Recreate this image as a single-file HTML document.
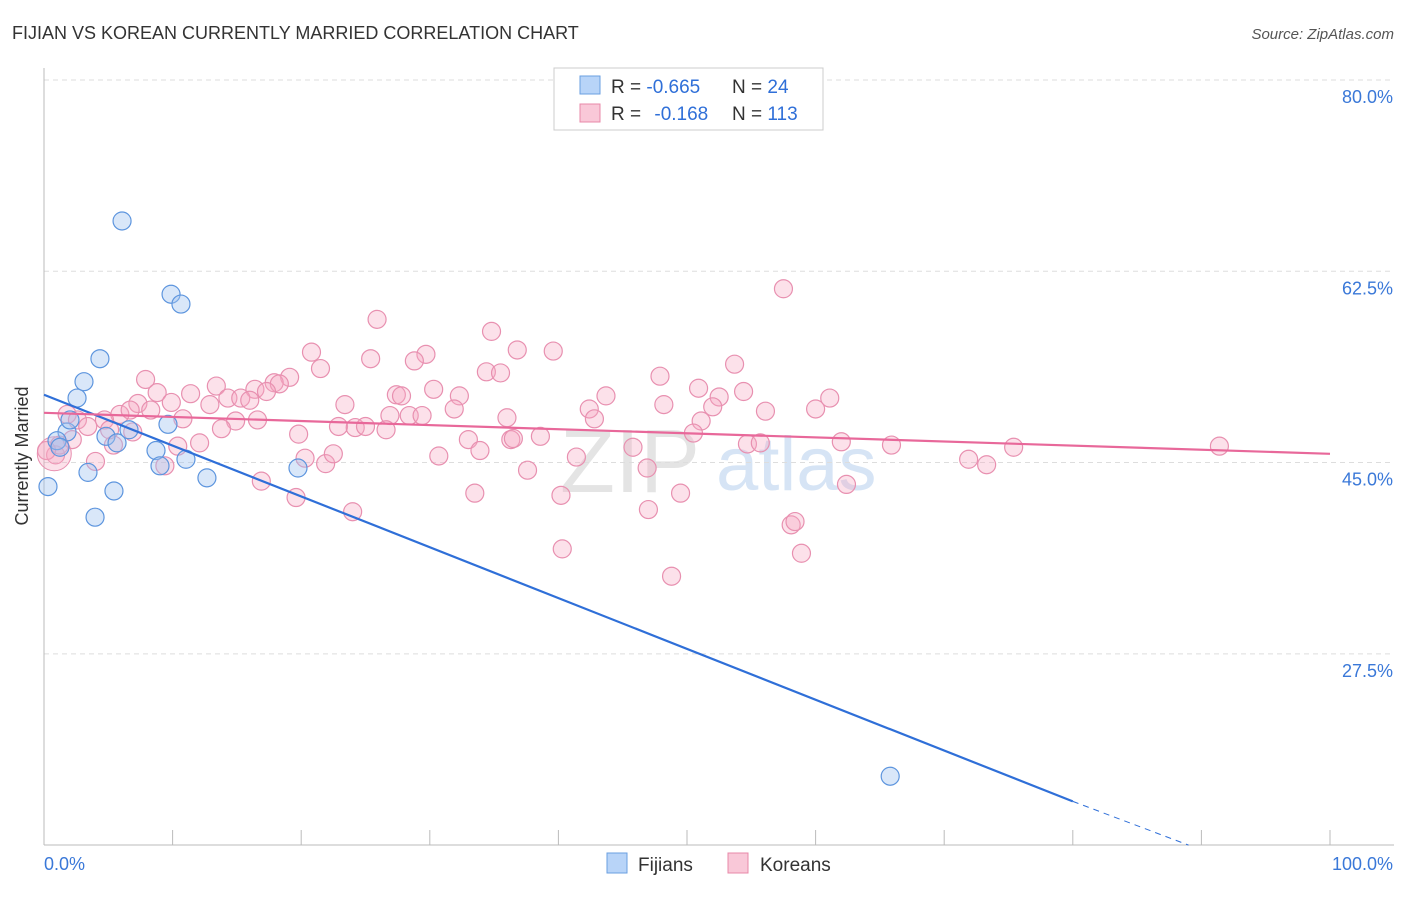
<!DOCTYPE html>
<html><head><meta charset="utf-8"><style>
body{margin:0;background:#fff;font-family:"Liberation Sans",sans-serif;}
svg text{font-family:"Liberation Sans",sans-serif;}
</style></head><body>
<svg id="chart" width="1406" height="892" xmlns="http://www.w3.org/2000/svg">
<text x="12" y="39" font-size="18" fill="#333">FIJIAN VS KOREAN CURRENTLY MARRIED CORRELATION CHART</text>
<text x="1394" y="39" font-size="15" fill="#555" text-anchor="end" font-style="italic">Source: ZipAtlas.com</text>
<text x="28" y="456" font-size="18" fill="#333" text-anchor="middle" transform="rotate(-90 28 456)">Currently Married</text>
<text x="700" y="492" font-size="90" fill="#e4e4e4" text-anchor="end" font-family="Liberation Serif">ZIP</text>
<text x="716" y="490" font-size="76" fill="#d6e4f5">atlas</text>
<g id="grid"></g><g id="axes"></g><g id="kor"></g><g id="fij"></g><g id="lines"></g>
<g>
<rect x="554" y="68" width="269" height="62" fill="#fff" stroke="#ccc"/>
<rect x="580" y="76" width="20" height="18" fill="#b8d4f8" stroke="#6a9fe0"/>
<rect x="580" y="104" width="20" height="18" fill="#f9c8d8" stroke="#e888a8"/>
<text x="611" y="93" font-size="19" fill="#333">R = <tspan fill="#2f6fd8">-0.665</tspan><tspan x="732">N = </tspan><tspan fill="#2f6fd8">24</tspan></text>
<text x="611" y="120" font-size="19" fill="#333">R = <tspan fill="#2f6fd8" dx="8">-0.168</tspan><tspan x="732">N = </tspan><tspan fill="#2f6fd8">113</tspan></text>
</g>
<g>
<rect x="607" y="853" width="20" height="20" fill="#b8d4f8" stroke="#6a9fe0"/>
<text x="638" y="871" font-size="19" fill="#333">Fijians</text>
<rect x="728" y="853" width="20" height="20" fill="#f9c8d8" stroke="#e888a8"/>
<text x="760" y="871" font-size="19" fill="#333">Koreans</text>
</g>
</svg>
<script>
const yTicks=[80,62.5,45,27.5];
const yTickLabels=["80.0%","62.5%","45.0%","27.5%"];
const fijX=[6.07,9.88,10.65,4.35,3.11,2.57,1.79,2.02,1.01,1.24,0.31,3.42,3.97,5.44,4.82,5.68,6.61,9.64,8.71,9.02,11.04,12.67,19.75,65.8];
const fijY=[67.1,60.4,59.5,54.5,52.4,50.9,47.8,48.9,47.0,46.4,42.8,44.1,40.0,42.4,47.4,46.8,48.0,48.5,46.1,44.7,45.3,43.6,44.5,16.3];
const korX=[57.5,25.9,34.8,36.8,39.6,20.8,25.4,29.7,28.8,53.7,21.5,34.4,35.5,7.9,19.1,17.9,18.3,13.4,16.4,17.3,11.4,8.8,30.3,32.3,43.7,47.9,50.9,52.5,54.4,61.1,14.3,15.3,16.0,9.9,7.3,12.9,23.4,27.4,27.8,31.9,42.4,48.2,52.0,56.1,60.0,8.3,5.9,4.7,10.8,14.9,26.9,28.4,29.4,36.0,42.8,1.8,2.6,3.4,22.9,26.6,24.2,25.0,51.1,13.8,6.9,19.8,50.5,5.4,10.4,12.1,33.0,33.9,36.3,36.5,38.6,45.8,54.7,55.7,62.0,65.9,75.4,91.4,4.0,9.4,20.3,21.9,22.5,30.7,41.4,46.9,71.9,73.3,16.9,19.6,33.5,40.2,49.5,62.4,24.0,47.0,58.1,58.4,40.3,58.9,48.8,0.9,1.2,2.2,6.7,16.6,37.6,0.2,5.1];
const korY=[60.9,58.1,57.0,55.3,55.2,55.1,54.5,54.9,54.3,54.0,53.6,53.3,53.2,52.6,52.8,52.3,52.2,52.0,51.7,51.5,51.3,51.4,51.7,51.1,51.1,52.9,51.8,51.0,51.5,50.9,50.9,50.9,50.7,50.5,50.4,50.3,50.3,51.2,51.1,49.9,49.9,50.3,50.1,49.7,49.9,49.8,49.4,48.9,49.0,48.8,49.3,49.3,49.3,49.1,49.0,49.4,48.9,48.3,48.3,48.0,48.2,48.3,48.8,48.1,47.8,47.6,47.7,46.6,46.5,46.8,47.1,46.1,47.1,47.2,47.4,46.4,46.7,46.8,46.9,46.6,46.4,46.5,45.1,44.7,45.4,44.9,45.8,45.6,45.5,44.5,45.3,44.8,43.3,41.8,42.2,42.0,42.2,43.0,40.5,40.7,39.3,39.6,37.1,36.7,34.6,45.7,46.6,47.1,49.8,48.9,44.3,46.1,48.0];
const fijLine=[[0,51.2],[80,14.0],[89,10]];
const korLine=[[0,49.55],[100,45.8]];
const NS="http://www.w3.org/2000/svg";
const X=v=>44+v*12.86, Y=v=>80+(80-v)*10.93;
function mk(p,t,a){const e=document.createElementNS(NS,t);for(const k in a)e.setAttribute(k,a[k]);document.getElementById(p).appendChild(e);return e;}
yTicks.forEach((t,i)=>{
 const g=mk('grid','line',{x1:44,x2:1394,y1:Y(t),y2:Y(t),stroke:'#ddd','stroke-dasharray':'5,4'});
 
 
 const l=mk('grid','text',{x:1393,y:Y(t)+23,'font-size':18,fill:'#3a78d8','text-anchor':'end'});
 l.textContent=yTickLabels[i];
 
 
});
const ax=mk('axes','line',{x1:44,x2:44,y1:68,y2:845,stroke:'#bbb'});


const bx=mk('axes','line',{x1:44,x2:1394,y1:845,y2:845,stroke:'#bbb'});


for(let i=0;i<=10;i++){const t=mk('axes','line',{x1:X(i*10),x2:X(i*10),y1:830,y2:845,stroke:'#bbb'});
 
 }
[["0.0%",44,'start'],["100.0%",1393,'end']].forEach(d=>{const t=mk('axes','text',{x:d[1],y:870,'font-size':18,fill:'#3a78d8','text-anchor':d[2]});t.textContent=d[0];
 
 });
korX.forEach((x,i)=>{const c=mk('kor','circle',{cx:X(x),cy:Y(korY[i]),r:9,fill:'rgba(245,170,195,0.35)',stroke:'#e890b0','stroke-width':1.2});
 
 });
const big=mk('kor','circle',{cx:X(0.8),cy:Y(45.8),r:17,fill:'rgba(245,170,195,0.35)',stroke:'#e890b0'});


fijX.forEach((x,i)=>{const c=mk('fij','circle',{cx:X(x),cy:Y(fijY[i]),r:9,fill:'rgba(160,195,240,0.4)',stroke:'#5d95de','stroke-width':1.2});
 
 });
const f1=mk('lines','line',{x1:X(fijLine[0][0]),y1:Y(fijLine[0][1]),x2:X(fijLine[1][0]),y2:Y(fijLine[1][1]),stroke:'#2f6fd8','stroke-width':2.2});


const f2=mk('lines','line',{x1:X(fijLine[1][0]),y1:Y(fijLine[1][1]),x2:X(fijLine[2][0]),y2:Y(fijLine[2][1]),stroke:'#2f6fd8','stroke-width':1,'stroke-dasharray':'6,5'});


const k1=mk('lines','line',{x1:X(korLine[0][0]),y1:Y(korLine[0][1]),x2:X(korLine[1][0]),y2:Y(korLine[1][1]),stroke:'#e8689a','stroke-width':2.2});


</script>
</body></html>
